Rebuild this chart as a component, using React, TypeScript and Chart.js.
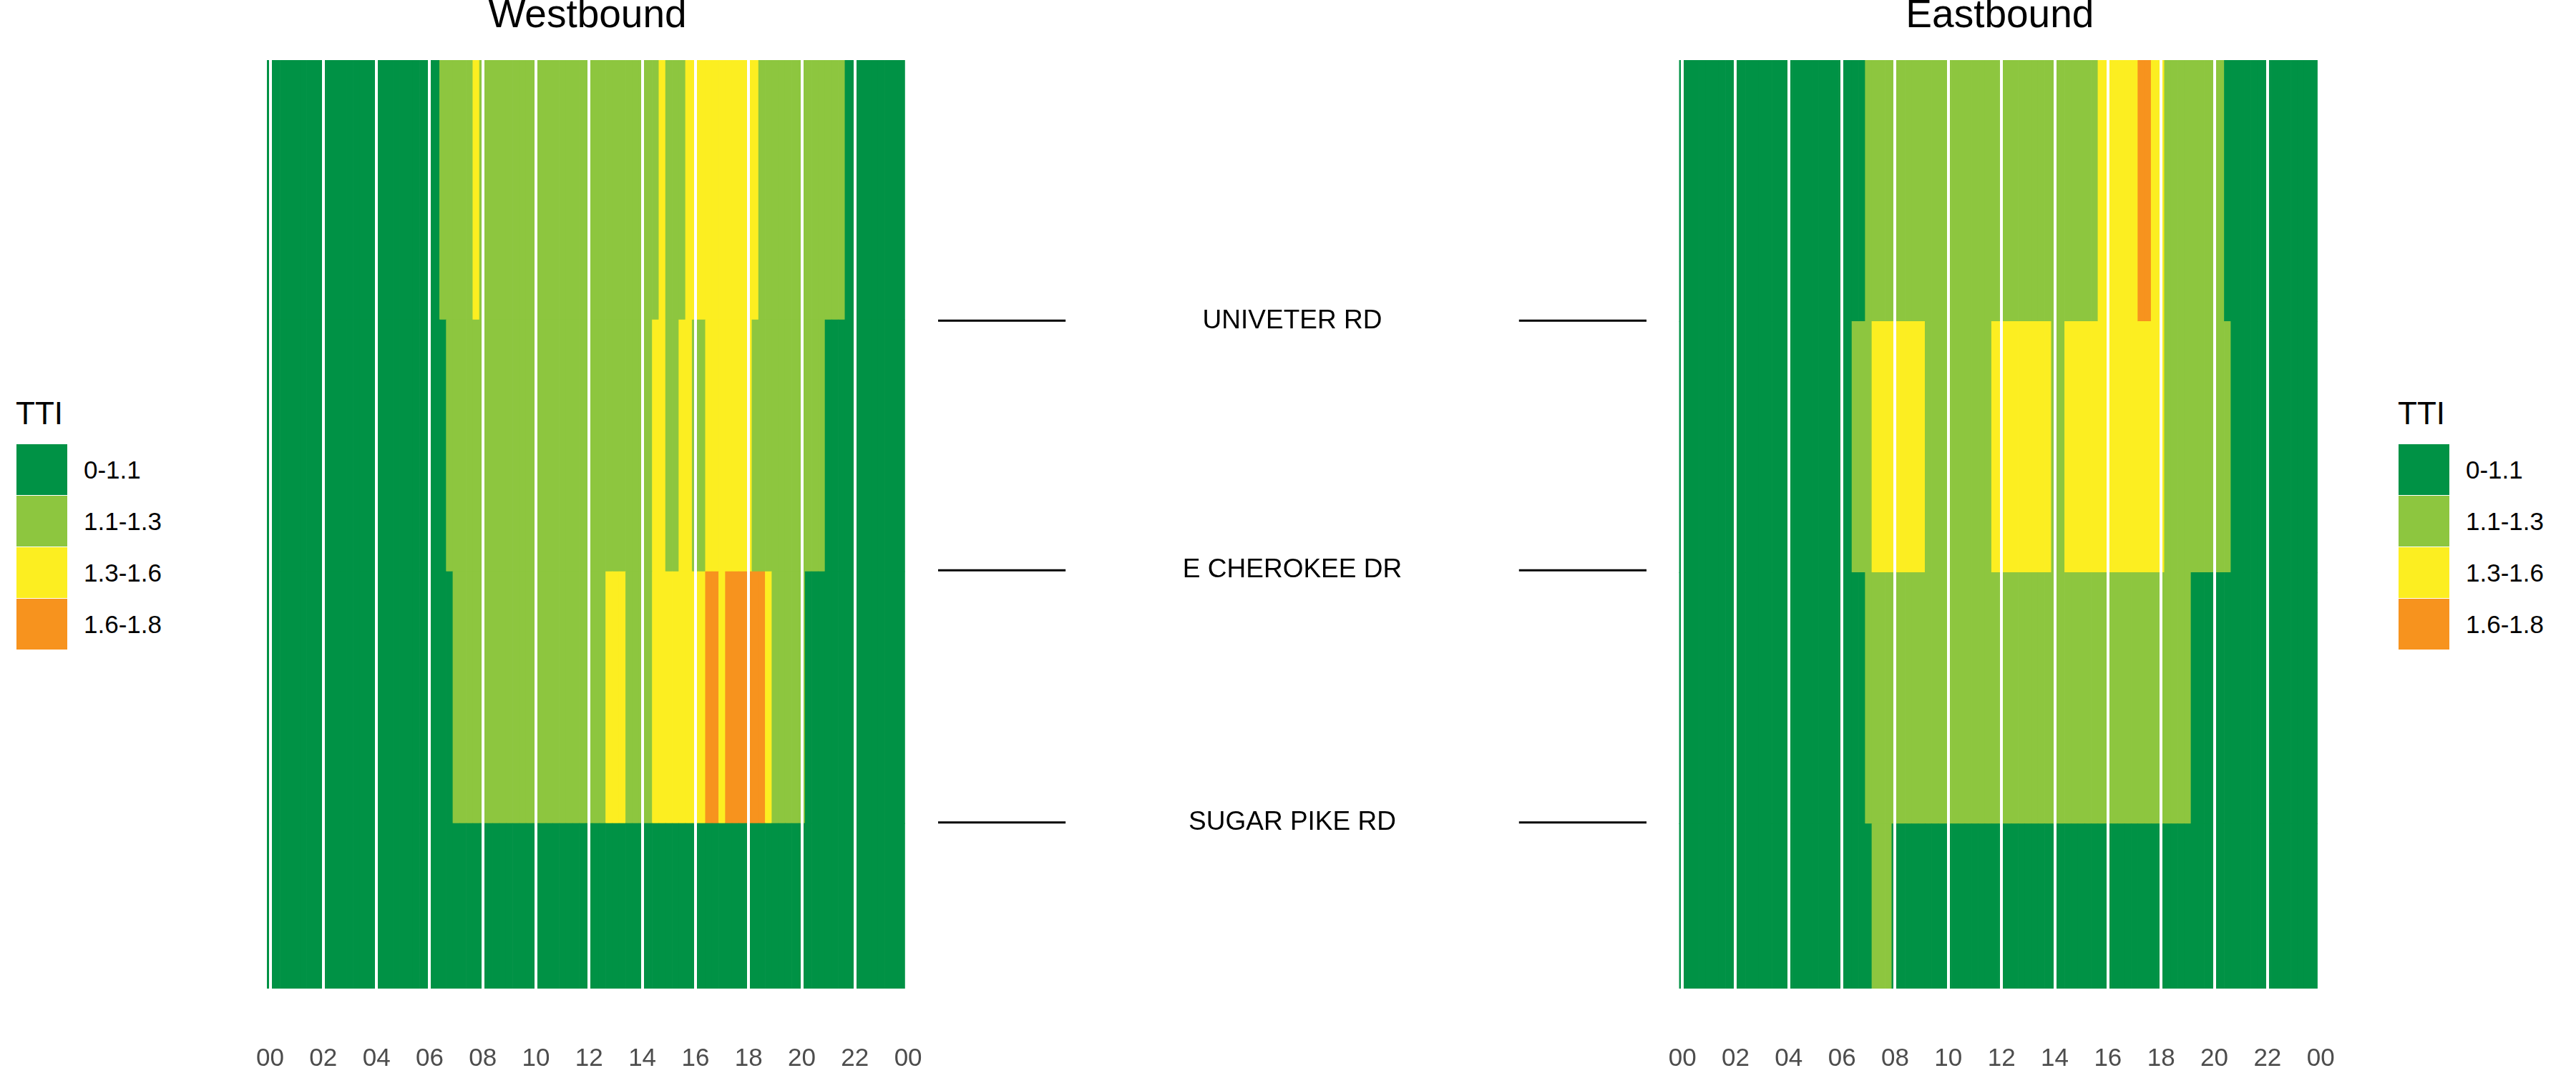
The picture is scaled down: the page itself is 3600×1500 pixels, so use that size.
import React, { useEffect, useRef } from "react";
import { Chart, registerables } from "chart.js";

Chart.register(...registerables);

const FONT = '"Liberation Sans", Arial, Helvetica, sans-serif';

// 15-minute time slots (tile centres)
const timeSlots = [
  "00:00","00:15","00:30","00:45","01:00","01:15","01:30","01:45",
  "02:00","02:15","02:30","02:45","03:00","03:15","03:30","03:45",
  "04:00","04:15","04:30","04:45","05:00","05:15","05:30","05:45",
  "06:00","06:15","06:30","06:45","07:00","07:15","07:30","07:45",
  "08:00","08:15","08:30","08:45","09:00","09:15","09:30","09:45",
  "10:00","10:15","10:30","10:45","11:00","11:15","11:30","11:45",
  "12:00","12:15","12:30","12:45","13:00","13:15","13:30","13:45",
  "14:00","14:15","14:30","14:45","15:00","15:15","15:30","15:45",
  "16:00","16:15","16:30","16:45","17:00","17:15","17:30","17:45",
  "18:00","18:15","18:30","18:45","19:00","19:15","19:30","19:45",
  "20:00","20:15","20:30","20:45","21:00","21:15","21:30","21:45",
  "22:00","22:15","22:30","22:45","23:00","23:15","23:30","23:45",
];

const tickHours = [0, 2, 4, 6, 8, 10, 12, 14, 16, 18, 20, 22, 24];
const tickLabels = ["00", "02", "04", "06", "08", "10", "12", "14", "16", "18", "20", "22", "00"];

const ttiClasses = ["0-1.1", "1.1-1.3", "1.3-1.6", "1.6-1.8"];
const ttiColors = ["#009245", "#8DC63F", "#FCEE21", "#F7931E"];

// road segments, bottom to top
const segmentNames = [
  "South of SUGAR PIKE RD",
  "SUGAR PIKE RD - E CHEROKEE DR",
  "E CHEROKEE DR - UNIVETER RD",
  "North of UNIVETER RD",
];
const wbSegmentLengths = [0.656, 1.0, 1.0, 1.031];
const ebSegmentLengths = [0.656, 1.0, 1.0, 1.04];

const roadNames = ["SUGAR PIKE RD", "E CHEROKEE DR", "UNIVETER RD"];
const roadMiles = [0.66, 1.661, 2.652];
const connectorX = [0, 0.18, 0.82, 1];

// TTI class (1..4) per 15-min slot — Westbound (seg1 = bottom)
const wbSeg1 = [
  1,1,1,1,1,1,1,1, 1,1,1,1,1,1,1,1, 1,1,1,1,1,1,1,1,
  1,1,1,1,1,1,1,1, 1,1,1,1,1,1,1,1, 1,1,1,1,1,1,1,1,
  1,1,1,1,1,1,1,1, 1,1,1,1,1,1,1,1, 1,1,1,1,1,1,1,1,
  1,1,1,1,1,1,1,1, 1,1,1,1,1,1,1,1, 1,1,1,1,1,1,1,1,
];
const wbSeg2 = [
  1,1,1,1,1,1,1,1, 1,1,1,1,1,1,1,1, 1,1,1,1,1,1,1,1,
  1,1,1,1,2,2,2,2, 2,2,2,2,2,2,2,2, 2,2,2,2,2,2,2,2,
  2,2,2,3,3,3,2,2, 2,2,3,3,3,3,3,3, 3,3,4,4,3,4,4,4,
  4,4,4,3,2,2,2,2, 2,1,1,1,1,1,1,1, 1,1,1,1,1,1,1,1,
];
const wbSeg3 = [
  1,1,1,1,1,1,1,1, 1,1,1,1,1,1,1,1, 1,1,1,1,1,1,1,1,
  1,1,1,2,2,2,2,2, 2,2,2,2,2,2,2,2, 2,2,2,2,2,2,2,2,
  2,2,2,2,2,2,2,2, 2,2,3,3,2,2,3,3, 2,2,3,3,3,3,3,3,
  3,2,2,2,2,2,2,2, 2,2,2,2,1,1,1,1, 1,1,1,1,1,1,1,1,
];
const wbSeg4 = [
  1,1,1,1,1,1,1,1, 1,1,1,1,1,1,1,1, 1,1,1,1,1,1,1,1,
  1,1,2,2,2,2,2,3, 2,2,2,2,2,2,2,2, 2,2,2,2,2,2,2,2,
  2,2,2,2,2,2,2,2, 2,2,2,3,2,2,2,3, 3,3,3,3,3,3,3,3,
  3,3,2,2,2,2,2,2, 2,2,2,2,2,2,2,1, 1,1,1,1,1,1,1,1,
];

// TTI class (1..4) per 15-min slot — Eastbound (seg1 = bottom)
const ebSeg1 = [
  1,1,1,1,1,1,1,1, 1,1,1,1,1,1,1,1, 1,1,1,1,1,1,1,1,
  1,1,1,1,1,2,2,2, 1,1,1,1,1,1,1,1, 1,1,1,1,1,1,1,1,
  1,1,1,1,1,1,1,1, 1,1,1,1,1,1,1,1, 1,1,1,1,1,1,1,1,
  1,1,1,1,1,1,1,1, 1,1,1,1,1,1,1,1, 1,1,1,1,1,1,1,1,
];
const ebSeg2 = [
  1,1,1,1,1,1,1,1, 1,1,1,1,1,1,1,1, 1,1,1,1,1,1,1,1,
  1,1,1,1,2,2,2,2, 2,2,2,2,2,2,2,2, 2,2,2,2,2,2,2,2,
  2,2,2,2,2,2,2,2, 2,2,2,2,2,2,2,2, 2,2,2,2,2,2,2,2,
  2,2,2,2,2,1,1,1, 1,1,1,1,1,1,1,1, 1,1,1,1,1,1,1,1,
];
const ebSeg3 = [
  1,1,1,1,1,1,1,1, 1,1,1,1,1,1,1,1, 1,1,1,1,1,1,1,1,
  1,1,2,2,2,3,3,3, 3,3,3,3,3,2,2,2, 2,2,2,2,2,2,2,3,
  3,3,3,3,3,3,3,3, 2,2,3,3,3,3,3,3, 3,3,3,3,3,3,3,3,
  3,2,2,2,2,2,2,2, 2,2,2,1,1,1,1,1, 1,1,1,1,1,1,1,1,
];
const ebSeg4 = [
  1,1,1,1,1,1,1,1, 1,1,1,1,1,1,1,1, 1,1,1,1,1,1,1,1,
  1,1,1,1,2,2,2,2, 2,2,2,2,2,2,2,2, 2,2,2,2,2,2,2,2,
  2,2,2,2,2,2,2,2, 2,2,2,2,2,2,2,3, 3,3,3,3,3,4,4,3,
  3,2,2,2,2,2,2,2, 2,2,1,1,1,1,1,1, 1,1,1,1,1,1,1,1,
];

const wbRows = [wbSeg1, wbSeg2, wbSeg3, wbSeg4];
const ebRows = [ebSeg1, ebSeg2, ebSeg3, ebSeg4];

const slotHours = timeSlots.map((s) => Number(s.slice(0, 2)) + Number(s.slice(3, 5)) / 60);
const sum = (a: number[]) => a.reduce((p, c) => p + c, 0);

const CANVAS_H = 1500;
const AXIS_H = 118;
const TOP_H = 84;
const TITLE_SIZE = 55;
const TITLE_LH = 0.8;

type HeatProps = {
  title: string;
  rows: number[][];
  lengths: number[];
  left: number;
  width: number;
  padLeft: number;
  padRight: number;
};

function HeatPanel({ title, rows, lengths, left, width, padLeft, padRight }: HeatProps) {
  const ref = useRef<HTMLCanvasElement | null>(null);
  useEffect(() => {
    if (!ref.current) return;
    const chart = new Chart(ref.current, {
      type: "bar",
      data: {
        datasets: rows.map((row, ri) => ({
          label: segmentNames[ri],
          data: row.map((_c, i) => ({ x: slotHours[i], y: lengths[ri] })),
          backgroundColor: row.map((c) => ttiColors[c - 1]),
          borderWidth: 0,
          barPercentage: 1,
          categoryPercentage: 1,
          stack: "road",
        })),
      } as any,
      options: {
        responsive: false,
        animation: false,
        devicePixelRatio: 1,
        layout: { padding: { left: padLeft, right: padRight, top: 0, bottom: 0 } },
        plugins: {
          legend: { display: false },
          tooltip: { enabled: false },
          title: {
            display: true,
            text: title,
            color: "#000000",
            font: { family: FONT, size: TITLE_SIZE, weight: "normal", lineHeight: TITLE_LH },
            padding: { top: 1, bottom: TOP_H - 1 - TITLE_SIZE * TITLE_LH },
          },
        },
        scales: {
          x: {
            type: "linear",
            min: -0.125,
            max: 24,
            offset: false,
            stacked: true,
            grid: { color: "#FFFFFF", lineWidth: 4, z: 1, drawTicks: false, offset: false },
            border: { display: false },
            afterBuildTicks: (s: any) => {
              s.ticks = tickHours.map((v) => ({ value: v }));
            },
            afterFit: (s: any) => {
              s.height = AXIS_H;
              s.paddingLeft = 0;
              s.paddingRight = 0;
            },
            ticks: {
              padding: 81,
              color: "#4D4D4D",
              autoSkip: false,
              maxRotation: 0,
              font: { family: FONT, size: 35, lineHeight: 1 },
              callback: (_v: any, i: number) => tickLabels[i],
            },
          },
          y: {
            type: "linear",
            min: 0,
            max: sum(lengths),
            stacked: true,
            display: false,
          },
        },
      } as any,
    });
    return () => chart.destroy();
  }, []);
  return (
    <canvas
      ref={ref}
      width={width}
      height={CANVAS_H}
      style={{ position: "absolute", left, top: 0, width, height: CANVAS_H }}
    />
  );
}

function RoadConnectors() {
  const ref = useRef<HTMLCanvasElement | null>(null);
  useEffect(() => {
    if (!ref.current) return;
    const labelPlugin = {
      id: "roadLabels",
      afterDatasetsDraw(chart: any) {
        const { ctx, scales } = chart;
        ctx.save();
        ctx.font = `37px ${FONT}`;
        ctx.fillStyle = "#000000";
        ctx.textAlign = "center";
        ctx.textBaseline = "middle";
        roadNames.forEach((n, i) => {
          ctx.fillText(n, scales.x.getPixelForValue(0.5), scales.y.getPixelForValue(roadMiles[i]));
        });
        ctx.restore();
      },
    };
    const chart = new Chart(ref.current, {
      type: "line",
      data: {
        datasets: roadNames.map((n, i) => ({
          label: n,
          data: [
            { x: connectorX[0], y: roadMiles[i] },
            { x: connectorX[1], y: roadMiles[i] },
            { x: 0.5, y: null },
            { x: connectorX[2], y: roadMiles[i] },
            { x: connectorX[3], y: roadMiles[i] },
          ],
          borderColor: "#000000",
          borderWidth: 3,
          pointRadius: 0,
          spanGaps: false,
          borderCapStyle: "butt",
        })),
      } as any,
      options: {
        responsive: false,
        animation: false,
        devicePixelRatio: 1,
        layout: { padding: { left: 11, right: 11, top: TOP_H, bottom: AXIS_H } },
        plugins: { legend: { display: false }, tooltip: { enabled: false } },
        scales: {
          x: { type: "linear", min: 0, max: 1, display: false },
          y: { type: "linear", min: 0, max: sum(wbSegmentLengths), display: false },
        },
      } as any,
      plugins: [labelPlugin],
    });
    return () => chart.destroy();
  }, []);
  return (
    <canvas
      ref={ref}
      width={1012}
      height={CANVAS_H}
      style={{ position: "absolute", left: 1300, top: 0, width: 1012, height: CANVAS_H }}
    />
  );
}

function Legend({ left }: { left: number }) {
  return (
    <div style={{ position: "absolute", left, top: 0 }}>
      <div
        style={{
          position: "absolute",
          left: -1,
          top: 556,
          fontSize: 44,
          lineHeight: "44px",
          whiteSpace: "nowrap",
          color: "#000",
        }}
      >
        TTI
      </div>
      {ttiClasses.map((c, i) => (
        <React.Fragment key={c}>
          <div
            style={{
              position: "absolute",
              left: 0,
              top: 621 + i * 72,
              width: 71,
              height: 71,
              background: ttiColors[i],
            }}
          />
          <div
            style={{
              position: "absolute",
              left: 94,
              top: 621 + i * 72,
              height: 71,
              lineHeight: "71px",
              fontSize: 35,
              whiteSpace: "nowrap",
              color: "#000",
            }}
          >
            {c}
          </div>
        </React.Fragment>
      ))}
    </div>
  );
}

export default function App() {
  return (
    <div
      style={{
        position: "absolute",
        left: 0,
        top: 0,
        width: 3600,
        height: 1500,
        background: "#FFFFFF",
        fontFamily: FONT,
        overflow: "hidden",
      }}
    >
      <Legend left={23} />
      <HeatPanel
        title="Westbound"
        rows={wbRows}
        lengths={wbSegmentLengths}
        left={298}
        width={1039}
        padLeft={74.9}
        padRight={67.9}
      />
      <RoadConnectors />
      <HeatPanel
        title="Eastbound"
        rows={ebRows}
        lengths={ebSegmentLengths}
        left={2272}
        width={1040}
        padLeft={74.5}
        padRight={68.8}
      />
      <Legend left={3352} />
    </div>
  );
}
